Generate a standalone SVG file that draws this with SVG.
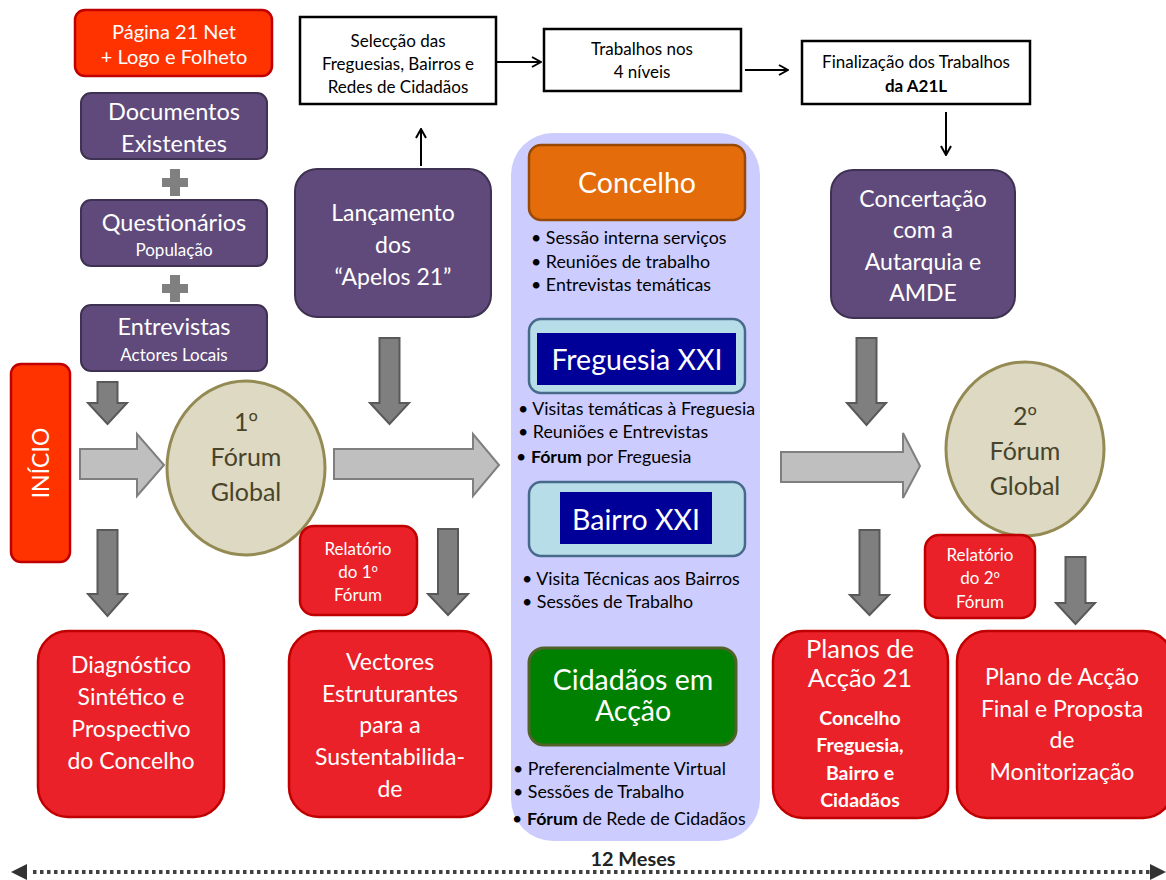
<svg xmlns="http://www.w3.org/2000/svg" width="1166" height="880" viewBox="0 0 1166 880">
<defs>
<marker id="open" viewBox="0 0 12 12" refX="11" refY="6" markerWidth="12" markerHeight="12" markerUnits="userSpaceOnUse" orient="auto">
<polyline points="2,1 11,6 2,11" fill="none" stroke="#000" stroke-width="2"/>
</marker>
<style>
text{font-family:Lato,"Open Sans","Liberation Sans",sans-serif;text-anchor:middle}
.w{fill:#fff}
.k{fill:#000}
.o{font-family:"Open Sans","Noto Sans",sans-serif}
.pur{fill:#604A7B;stroke:#3F3151;stroke-width:2}
.org{fill:#FF3300;stroke:#C00000;stroke-width:2.5}
.red{fill:#EA2128;stroke:#C00000;stroke-width:2.5}
.box{fill:#fff;stroke:#000;stroke-width:2.5}
.ell{fill:#DDD9C3;stroke:#948A54;stroke-width:3}
.et{fill:#494429;font-size:25px}
.dn{fill:#7F7F7F;stroke:#595959;stroke-width:2}
.rt{fill:#BFBFBF;stroke:#7F7F7F;stroke-width:2}
.bl{font-size:17.8px;text-anchor:start;fill:#000}
.cyan{fill:#B7DEE8;stroke:#47698A;stroke-width:2.5}
.navy{fill:#000099}
.line{stroke:#000;stroke-width:2;fill:none}
</style>
</defs>
<rect width="1166" height="880" fill="#fff"/>

<g id="central-column">
<rect x="511" y="133" width="249" height="708" rx="42" fill="#CCCCFF"/>
</g>

<g id="pagina21">
<rect class="org" x="75" y="10" width="197" height="66" rx="10"/>
<text class="w" x="174" y="39" font-size="20">Página 21 Net</text>
<text class="w" x="174" y="64" font-size="20">+ Logo e Folheto</text>
</g>

<g id="documentos">
<rect class="pur" x="81" y="93" width="186" height="66" rx="10"/>
<text class="w" x="174" y="120" font-size="23.5">Documentos</text>
<text class="w" x="174" y="152" font-size="23.5">Existentes</text>
</g>

<g id="plus1">
<polygon fill="#808080" points="170,169 180,169 180,178 188,178 188,187 180,187 180,196 170,196 170,187 162,187 162,178 170,178"/>
</g>

<g id="questionarios">
<rect class="pur" x="81" y="200" width="186" height="66" rx="10"/>
<text class="w" x="174" y="231" font-size="23.5">Questionários</text>
<text class="w" x="174" y="256" font-size="17">População</text>
</g>

<g id="plus2">
<polygon fill="#808080" points="170,275 180,275 180,284 188,284 188,293 180,293 180,302 170,302 170,293 162,293 162,284 170,284"/>
</g>

<g id="entrevistas">
<rect class="pur" x="81" y="305" width="186" height="66" rx="10"/>
<text class="w" x="174" y="335" font-size="23.5">Entrevistas</text>
<text class="w" x="174" y="361" font-size="17">Actores Locais</text>
</g>

<g id="inicio">
<rect class="org" x="11" y="364" width="59" height="198" rx="10"/>
<text class="w" font-size="23" transform="translate(49,463) rotate(-90)" x="0" y="0">INÍCIO</text>
</g>

<g id="forum1">
<ellipse class="ell" cx="246" cy="468" rx="79" ry="87"/>
<text class="et" x="246" y="431">1<tspan class="o">º</tspan></text>
<text class="et" x="246" y="466">Fórum</text>
<text class="et" x="246" y="501">Global</text>
</g>

<g id="lancamento">
<rect class="pur" x="295" y="169" width="196" height="148" rx="22"/>
<text class="w" x="393" y="221" font-size="23">Lançamento</text>
<text class="w" x="393" y="253" font-size="23">dos</text>
<text class="w" x="393" y="285" font-size="23">“Apelos 21”</text>
</g>

<g id="relatorio1">
<rect class="red" x="300" y="526" width="117" height="89" rx="14"/>
<text class="w" x="358" y="555" font-size="17">Relatório</text>
<text class="w" x="358" y="578" font-size="17">do 1<tspan class="o">º</tspan></text>
<text class="w" x="358" y="601" font-size="17">Fórum</text>
</g>

<g id="selecao">
<rect class="box" x="300" y="17" width="196" height="87"/>
<text class="k" x="398" y="47" font-size="17">Selecção das</text>
<text class="k" x="398" y="70" font-size="17">Freguesias, Bairros e</text>
<text class="k" x="398" y="93" font-size="17">Redes de Cidadãos</text>
</g>

<g id="trabalhos">
<rect class="box" x="544" y="29" width="197" height="62"/>
<text class="k" x="642" y="55" font-size="17">Trabalhos nos</text>
<text class="k" x="642" y="78" font-size="17">4 níveis</text>
</g>

<g id="finalizacao">
<rect class="box" x="802" y="41" width="228" height="63"/>
<text class="k" x="916" y="68" font-size="17">Finalização dos Trabalhos</text>
<text class="k" x="916" y="92" font-size="17" font-weight="bold">da A21L</text>
</g>

<g id="concertacao">
<rect class="pur" x="831" y="170" width="184" height="148" rx="22"/>
<text class="w" x="923" y="207" font-size="23">Concertação</text>
<text class="w" x="923" y="238" font-size="23">com a</text>
<text class="w" x="923" y="270" font-size="23">Autarquia e</text>
<text class="w" x="923" y="301" font-size="23">AMDE</text>
</g>

<g id="concelho">
<rect x="529" y="145" width="216" height="75" rx="12" fill="#E46C0A" stroke="#984807" stroke-width="2.5"/>
<text class="w" x="637" y="193" font-size="28.5">Concelho</text>
<text class="bl" x="531" y="244">• Sessão interna serviços</text>
<text class="bl" x="531" y="268">• Reuniões de trabalho</text>
<text class="bl" x="531" y="291">• Entrevistas temáticas</text>
</g>

<g id="freguesia">
<rect class="cyan" x="529" y="319" width="216" height="74" rx="12"/>
<rect class="navy" x="537" y="333" width="199" height="52"/>
<text class="w" x="637" y="370" font-size="28.5">Freguesia XXI</text>
<text class="bl" x="518" y="415">• Visitas temáticas à Freguesia</text>
<text class="bl" x="518" y="438">• Reuniões e Entrevistas</text>
<text class="bl" x="516" y="463" font-size="19">• <tspan font-weight="bold">Fórum</tspan> por Freguesia</text>
</g>

<g id="bairro">
<rect class="cyan" x="529" y="482" width="216" height="74" rx="12"/>
<rect class="navy" x="560" y="492" width="152" height="52"/>
<text class="w" x="636" y="530" font-size="28.5">Bairro XXI</text>
<text class="bl" x="522" y="585">• Visita Técnicas aos Bairros</text>
<text class="bl" x="522" y="608">• Sessões de Trabalho</text>
</g>

<g id="cidadaos">
<rect x="529" y="648" width="207" height="97" rx="15" fill="#008000" stroke="#4F6228" stroke-width="3"/>
<text class="w" x="633" y="690" font-size="28.5">Cidadãos em</text>
<text class="w" x="633" y="721" font-size="28.5">Acção</text>
<text class="bl" x="513" y="775">• Preferencialmente Virtual</text>
<text class="bl" x="513" y="798">• Sessões de Trabalho</text>
<text class="bl" x="512" y="825" font-size="19">• <tspan font-weight="bold">Fórum</tspan> de Rede de Cidadãos</text>
</g>

<g id="forum2">
<ellipse class="ell" cx="1025" cy="449" rx="79" ry="87"/>
<text class="et" x="1025" y="425">2<tspan class="o">º</tspan></text>
<text class="et" x="1025" y="460">Fórum</text>
<text class="et" x="1025" y="495">Global</text>
</g>

<g id="relatorio2">
<rect class="red" x="925" y="535" width="110" height="83" rx="14"/>
<text class="w" x="980" y="561" font-size="17">Relatório</text>
<text class="w" x="980" y="584" font-size="17">do 2<tspan class="o">º</tspan></text>
<text class="w" x="980" y="608" font-size="17">Fórum</text>
</g>

<g id="diagnostico">
<rect class="red" x="38" y="631" width="186" height="186" rx="30"/>
<text class="w" x="131" y="673" font-size="23">Diagnóstico</text>
<text class="w" x="131" y="705" font-size="23">Sintético e</text>
<text class="w" x="131" y="737" font-size="23">Prospectivo</text>
<text class="w" x="131" y="769" font-size="23">do Concelho</text>
</g>

<g id="vectores">
<rect class="red" x="289" y="631" width="202" height="186" rx="30"/>
<text class="w" x="390" y="670" font-size="23">Vectores</text>
<text class="w" x="390" y="702" font-size="23">Estruturantes</text>
<text class="w" x="390" y="733" font-size="23">para a</text>
<text class="w" x="390" y="765" font-size="23">Sustentabilida-</text>
<text class="w" x="390" y="797" font-size="23">de</text>
</g>

<g id="planos21">
<rect class="red" x="773" y="631" width="175" height="187" rx="30"/>
<text class="w" x="860" y="658" font-size="25.5">Planos de</text>
<text class="w" x="860" y="687" font-size="25.5">Acção 21</text>
<text class="w" x="860" y="725" font-size="19.5" font-weight="bold">Concelho</text>
<text class="w" x="860" y="752" font-size="19.5" font-weight="bold">Freguesia,</text>
<text class="w" x="860" y="780" font-size="19.5" font-weight="bold">Bairro e</text>
<text class="w" x="860" y="807" font-size="19.5" font-weight="bold">Cidadãos</text>
</g>

<g id="planofinal">
<rect class="red" x="957" y="631" width="216" height="187" rx="30"/>
<text class="w" x="1062" y="685" font-size="23">Plano de Acção</text>
<text class="w" x="1062" y="717" font-size="23">Final e Proposta</text>
<text class="w" x="1062" y="748" font-size="23">de</text>
<text class="w" x="1062" y="780" font-size="23">Monitorização</text>
</g>

<g id="connectors">
<polygon class="dn" points="97.5,382 117.5,382 117.5,403 127,403 107.5,424 88,403 97.5,403"/>
<polygon class="dn" points="97.5,530 117.5,530 117.5,594 127,594 107.5,616 88,594 97.5,594"/>
<polygon class="dn" points="379.5,338 399.5,338 399.5,403 409,403 389.5,424 370,403 379.5,403"/>
<polygon class="dn" points="438,529 458,529 458,594 468,594 448,615 428,594 438,594"/>
<polygon class="dn" points="856.5,338 876.5,338 876.5,403 886,403 866.5,425 847,403 856.5,403"/>
<polygon class="dn" points="859.5,530 879.5,530 879.5,595 889,595 869.5,615 850,595 859.5,595"/>
<polygon class="dn" points="1065.5,557 1085.5,557 1085.5,603 1095,603 1075.5,624 1056,603 1065.5,603"/>
<polygon class="rt" points="80,449 137,449 137,434 164,465 137,496 137,479 80,479"/>
<polygon class="rt" points="334,449 473,449 473,434 499,465 473,496 473,479 334,479"/>
<polygon class="rt" points="781,452 903,452 903,433 920,466 903,498 903,482 781,482"/>
<line class="line" x1="421" y1="166" x2="421" y2="129" marker-end="url(#open)"/>
<line class="line" x1="497" y1="62" x2="541" y2="62" marker-end="url(#open)"/>
<line class="line" x1="745" y1="70" x2="788" y2="70" marker-end="url(#open)"/>
<line class="line" x1="946" y1="112" x2="946" y2="155" marker-end="url(#open)"/>
</g>

<g id="timeline">
<line x1="33" y1="872" x2="1150" y2="872" stroke="#404040" stroke-width="4" stroke-dasharray="3.5 3.5"/>
<polygon points="11,872 27,864 27,880" fill="#333"/>
<polygon points="1166,872 1150,864 1150,880" fill="#333"/>
<text x="633" y="866" font-family="'Liberation Sans Narrow','Liberation Sans',sans-serif" font-weight="bold" font-size="19" textLength="85" lengthAdjust="spacingAndGlyphs" fill="#222">12 Meses</text>
</g>
</svg>
